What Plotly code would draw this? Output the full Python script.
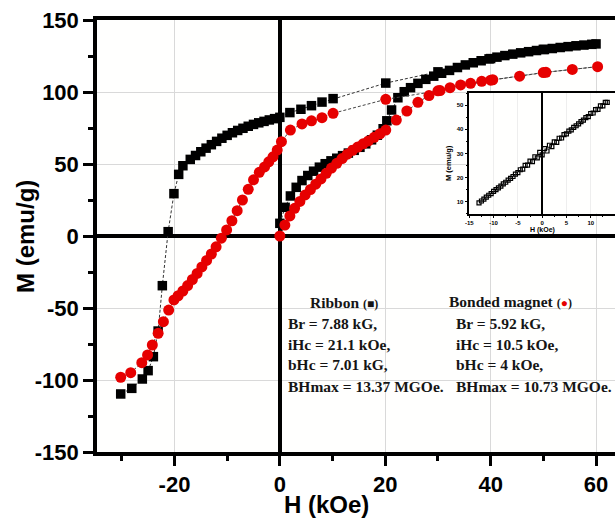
import plotly.graph_objects as go

# ---------------- data ----------------
ribbon_H = [0, 1.0, 2.0, 3.1, 4.2, 5.3, 6.4, 7.5, 8.6, 9.7,
            10.8, 11.9, 13.0, 14.1, 15.2, 16.3, 17.4, 18.5, 19.6, 20.3,
            21.2, 22.4, 23.6, 24.8, 26.2, 27.7, 29.2, 30.7, 32.2, 33.7,
            35.2, 36.7, 38.2, 39.7, 41.2, 42.7, 44.2, 45.7, 47.2, 48.7,
            50.2, 51.7, 53.2, 54.7, 56.2, 57.7, 59.2, 60.0,
            50.0, 40.0, 30.0, 20.1, 10.1, 8.0, 6.0, 4.0, 1.9, 0.0,
            -1, -2, -3, -4, -5, -6, -7, -8, -9, -10, -11, -12, -13, -14, -15, -16, -17,
            -18.4, -19.2, -20.1, -21.2, -22.3, -23.1, -24.0, -25.0, -26.1, -28.1, -30.2]
ribbon_M = [8.8, 19.9, 27.8, 33.8, 38.5, 42.0, 45.0, 47.8, 50.2, 52.2,
            54.0, 55.8, 57.6, 59.5, 61.6, 64.0, 66.8, 70.0, 74.5, 80.0,
            87.5, 96.0, 100.2, 103.0, 106.0, 108.8, 111.0, 113.0, 115.0, 117.0,
            118.8, 120.3, 121.7, 123.0, 124.2, 125.3, 126.3, 127.2, 128.0, 128.8,
            129.5, 130.2, 130.9, 131.5, 132.1, 132.6, 133.1, 133.4,
            129.6, 123.2, 114.0, 106.2, 95.4, 93.0, 90.5, 88.0, 85.7, 82.4,
            81.5, 80.6, 79.6, 78.6, 77.5, 76.2, 74.8, 73.3, 71.7, 69.9, 67.9, 65.7, 63.4, 61.0, 58.5, 55.9, 53.2,
            48.8, 42.8, 29.4, 3.0, -34.5, -66.0, -83.8, -93.5, -99.3, -105.8, -109.7]

bonded_H = [0, 0.95, 1.9, 2.8, 3.8, 4.8, 5.8, 6.8, 7.8, 8.8,
            9.8, 10.8, 11.8, 12.8, 13.8, 14.8, 15.8, 16.8, 17.9, 19.0,
            20.1, 22.1, 24.1, 26.2, 28.3, 30.4, 32.3, 34.3, 36.2, 38.3,
            40.4, 45.5, 50.5, 55.5, 60.3,
            50.0, 40.0, 30.0, 20.1, 10.1, 8.0, 6.0, 4.2, 2.0, 0.3,
            -0.5, -1.3, -2.1, -2.9, -3.9, -5.0, -6.0, -7.1, -8.1, -9.1,
            -10.1, -11.1, -12.1, -13.0, -13.9, -14.8, -15.7, -16.6, -17.5, -18.4,
            -19.3, -20.1, -21.1, -22.1, -23.1, -24.2, -25.1, -26.2, -28.3, -30.2]
bonded_M = [0, 7.6, 13.9, 19.2, 24.0, 28.5, 32.3, 36.0, 39.6, 43.5,
            47.2, 50.5, 53.8, 56.8, 59.5, 61.8, 64.0, 66.0, 68.5, 71.0,
            73.6, 80.5, 86.8, 92.8, 97.5, 101.0, 103.0, 104.9, 106.0, 107.4,
            108.5, 111.0, 113.7, 115.7, 117.6,
            113.5, 108.2, 100.8, 94.9, 85.2, 82.2, 80.0, 77.8, 73.6, 65.5,
            59.7, 55.0, 51.5, 48.0, 44.2, 39.0, 32.4, 25.0, 17.6, 10.6,
            4.2, -1.5, -7.5, -12.5, -17.0, -21.5, -26.0, -30.2, -34.4, -38.2,
            -41.5, -44.4, -51.4, -59.5, -67.6, -75.7, -82.6, -88.0, -94.9, -98.1]

inset_H = [-13, -12, -11, -10, -9, -8, -7, -6, -5, -4, -3, -2, -1, 0,
           1, 2, 3, 4, 5, 6, 7, 8, 9, 10, 11, 12, 13,
           13.4, 12.5, 11.5, 10.5, 9.5, 8.5, 7.5, 6.5, 5.5, 4.5, 3.5, 2.5, 1.5, 0.5,
           -0.5, -1.5, -2.5, -3.5, -4.5, -5.5, -6.5, -7.5, -8.5, -9.5, -10.5, -11.5, -12.5]
inset_M = [9.4, 11.0, 12.6, 14.2, 15.7, 17.3, 18.9, 20.4, 22.0, 23.5, 25.1, 26.6, 28.1, 29.4,
           31.0, 32.8, 34.6, 36.4, 38.1, 39.8, 41.5, 43.2, 44.9, 46.6, 48.2, 49.8, 51.2,
           51.2, 49.8, 48.3, 46.8, 45.3, 43.8, 42.3, 40.8, 39.3, 37.8, 36.3, 34.8, 33.4, 32.0,
           30.4, 28.6, 26.8, 25.0, 23.2, 21.4, 19.6, 18.0, 16.4, 14.9, 13.3, 11.8, 10.2]

x_tickvals = [-20, 0, 20, 40, 60]
x_ticktext = ["-20", "0", "20", "40", "60"]
x_minorvals = [-30, -10, 10, 30, 50]
y_tickvals = [-150, -100, -50, 0, 50, 100, 150]
y_ticktext = ["-150", "-100", "-50", "0", "50", "100", "150"]
y_minorvals = [-125, -75, -25, 25, 75, 125]

inset_x_tickvals = [-15, -10, -5, 0, 5, 10, 15]
inset_x_ticktext = ["-15", "-10", "-5", "0", "5", "10", "15"]
inset_y_tickvals = [10, 20, 30, 40, 50]
inset_y_ticktext = ["10", "20", "30", "40", "50"]

ribbon_title = "Ribbon"
bonded_title = "Bonded magnet"
ribbon_params = ["Br = 7.88 kG,", "iHc = 21.1 kOe,", "bHc = 7.01 kG,", "BHmax = 13.37 MGOe."]
bonded_params = ["Br = 5.92 kG,", "iHc = 10.5 kOe,", "bHc = 4 kOe,", "BHmax = 10.73 MGOe."]

# ---------------- layout helpers ----------------
W, H = 615, 519
L, T, R, B = 97, 20, 0, 67
PW, PH = W - L - R, H - T - B


def px(x):
    return (x - L) / PW


def py(y):
    return (H - B - y) / PH


SANS = "Liberation Sans, Arial, sans-serif"
SERIF = "Liberation Serif, Times New Roman, serif"
RED = "#e60000"

fig = go.Figure()

fig.add_trace(go.Scatter(
    x=ribbon_H, y=ribbon_M, mode="lines+markers", name="Ribbon",
    line=dict(color="#333333", width=1, dash="3px,2px"),
    marker=dict(symbol="square", size=9.5, color="black"),
    xaxis="x", yaxis="y"))
fig.add_trace(go.Scatter(
    x=bonded_H, y=bonded_M, mode="lines+markers", name="Bonded magnet",
    line=dict(color="#444444", width=1, dash="3px,2px"),
    marker=dict(symbol="circle", size=11, color=RED),
    xaxis="x", yaxis="y"))
fig.add_trace(go.Scatter(
    x=inset_H, y=inset_M, mode="markers", name="inset",
    marker=dict(symbol="square-open", size=4, color="black", line=dict(width=1.2)),
    xaxis="x2", yaxis="y2"))

axis_common = dict(showline=True, linecolor="black", linewidth=3.5,
                   ticks="outside", tickcolor="black", tickwidth=3, ticklen=10,
                   showgrid=True, gridcolor="#d9d9d9", gridwidth=1,
                   zeroline=True, zerolinecolor="black", zerolinewidth=3.5,
                   tickfont=dict(family=SANS, size=22, color="black", weight="bold"))

fig.update_layout(
    width=W, height=H, autosize=False,
    margin=dict(l=L, r=R, t=T, b=B),
    paper_bgcolor="#ffffff", plot_bgcolor="#fffffe",
    showlegend=False,
    xaxis=dict(domain=[0, 1], range=[-34.7, 63.6], tickmode="array",
               tickvals=x_tickvals, ticktext=x_ticktext, mirror=True,
               minor=dict(tickmode="array", tickvals=x_minorvals, ticks="outside",
                          ticklen=5, tickwidth=3, tickcolor="black", showgrid=False),
               **axis_common),
    yaxis=dict(domain=[0, 1], range=[-150, 150], tickmode="array",
               tickvals=y_tickvals, ticktext=y_ticktext, mirror=False,
               minor=dict(tickmode="array", tickvals=y_minorvals, ticks="outside",
                          ticklen=5, tickwidth=3, tickcolor="black", showgrid=False),
               **axis_common),
    xaxis2=dict(domain=[px(469.3), 1.0], range=[-15, 15], anchor="y2",
                showline=True, linecolor="black", linewidth=1.5, mirror=True,
                ticks="outside", ticklen=3, tickwidth=1, tickcolor="black",
                tickmode="array", tickvals=inset_x_tickvals, ticktext=inset_x_ticktext,
                minor=dict(tickmode="linear", tick0=0, dtick=2.5, ticks="outside",
                           ticklen=2, tickwidth=1, tickcolor="black", showgrid=False),
                showgrid=True, gridcolor="#eeeeee", gridwidth=1,
                zeroline=True, zerolinecolor="black", zerolinewidth=2,
                tickfont=dict(family=SANS, size=6, color="black", weight="bold")),
    yaxis2=dict(domain=[py(213.5), py(93.3)], range=[5, 55], anchor="x2",
                showline=True, linecolor="black", linewidth=1.5, mirror=False,
                ticks="outside", ticklen=3, tickwidth=1, tickcolor="black",
                tickmode="array", tickvals=inset_y_tickvals, ticktext=inset_y_ticktext,
                minor=dict(tickmode="linear", tick0=0, dtick=5, ticks="outside",
                           ticklen=2, tickwidth=1, tickcolor="black", showgrid=False),
                showgrid=False, zeroline=False,
                tickfont=dict(family=SANS, size=6, color="black", weight="bold")),
)

ann = []
# axis titles
ann.append(dict(text="<b>M (emu/g)</b>", x=px(25), y=py(237), xref="paper", yref="paper",
                textangle=-90, showarrow=False, xanchor="center", yanchor="middle",
                font=dict(family=SANS, size=24, color="black")))
ann.append(dict(text="<b>H (kOe)</b>", x=px(326), y=py(504), xref="paper", yref="paper",
                showarrow=False, xanchor="center", yanchor="middle",
                font=dict(family=SANS, size=24, color="black")))
# inset titles
ann.append(dict(text="<b>M (emu/g)</b>", x=px(448), y=py(163), xref="paper", yref="paper",
                textangle=-90, showarrow=False, xanchor="center", yanchor="middle",
                font=dict(family=SANS, size=7.5, color="black")))
ann.append(dict(text="<b>H (kOe)</b>", x=px(542.7), y=py(229.5), xref="paper", yref="paper",
                showarrow=False, xanchor="center", yanchor="middle",
                font=dict(family=SANS, size=7, color="black")))

# parameter text blocks
ann.append(dict(text="<b>" + ribbon_title + "</b> <span style='font-size:12px'><b>(■)</b></span>",
                x=px(308), y=py(302), xref="paper", yref="paper", showarrow=False,
                xanchor="left", yanchor="middle",
                font=dict(family=SERIF, size=15.5, color="#151515")))
ann.append(dict(text="<b>" + bonded_title + "</b> <span style='font-size:12px'><b>(<span style='color:" + RED + "'>●</span>)</b></span>",
                x=px(447), y=py(301), xref="paper", yref="paper", showarrow=False,
                xanchor="left", yanchor="middle",
                font=dict(family=SERIF, size=15.5, color="#151515")))
rows_y = [323, 344, 364, 386]
for txt, yy in zip(ribbon_params, rows_y):
    ann.append(dict(text="<b>" + txt + "</b>", x=px(286), y=py(yy), xref="paper", yref="paper",
                    showarrow=False, xanchor="left", yanchor="middle",
                    font=dict(family=SERIF, size=15.5, color="#151515")))
for txt, yy in zip(bonded_params, rows_y):
    ann.append(dict(text="<b>" + txt + "</b>", x=px(454), y=py(yy), xref="paper", yref="paper",
                    showarrow=False, xanchor="left", yanchor="middle",
                    font=dict(family=SERIF, size=15.5, color="#151515")))

fig.update_layout(annotations=ann)

fig.write_html("out.html", config={"displayModeBar": False},
               post_script="document.body.style.margin='0px';document.body.style.overflow='hidden';")
